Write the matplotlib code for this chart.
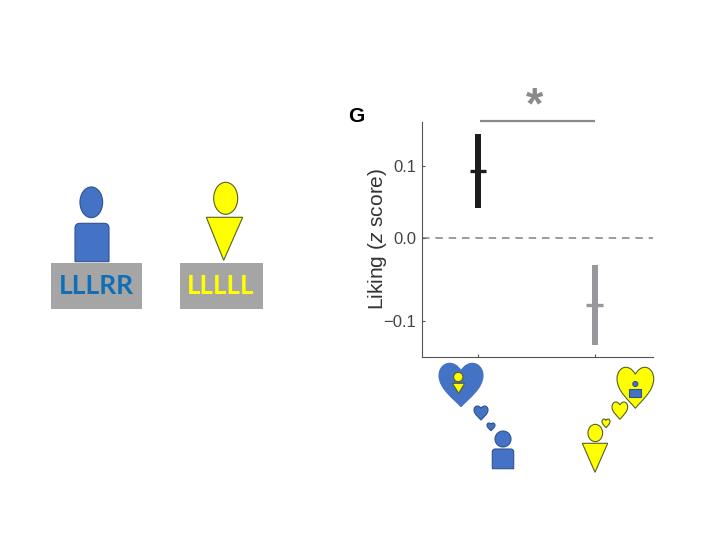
import matplotlib

matplotlib.use("Agg")
import matplotlib.pyplot as plt
import numpy as np
from matplotlib.patches import Ellipse, PathPatch, Polygon, Rectangle
from matplotlib.path import Path

# Chart values
groups = [0, 1]
means = [0.093, -0.081]
upper = [0.144, -0.033]
lower = [0.041, -0.130]
barColors = ["#1c1c1e", "#98989c"]
yTicks = [0.1, 0.0, -0.1]
yTickLabels = ["0.1", "0.0", "\u22120.1"]
yLabel = "Liking ($\\mathit{z}$ score)"
leftStrategy = "LLLRR"
rightStrategy = "LLLLL"

BLUE = "#4472c4"
BLUE_EDGE = "#2f528f"
YELLOW = "#ffff00"
YELLOW_EDGE = "#55602a"
BOX_GREY = "#a5a5a5"

plt.rcParams["font.family"] = ["Liberation Sans", "DejaVu Sans"]
plt.rcParams["mathtext.fontset"] = "custom"
plt.rcParams["mathtext.it"] = "Liberation Sans:italic"
plt.rcParams["mathtext.rm"] = "Liberation Sans"


# The published axis is not evenly spaced around zero
def forward(y):
    y = np.asarray(y, dtype=float)
    return np.where(y >= 0, y * 723, y * 827)


def inverse(v):
    v = np.asarray(v, dtype=float)
    return np.where(v >= 0, v / 723, v / 827)


fig = plt.figure(figsize=(7.2, 5.4), dpi=100)

ax = fig.add_axes([421.5 / 720, 1 - 356.5 / 540, 231.5 / 720, 234.5 / 540])
ax.set_yscale("function", functions=(forward, inverse))
ax.set_xlim(-0.484, 1.5)
ax.set_ylim(-0.1433, 0.1604)

ax.axhline(0, color="#8a8a8a", linewidth=1.2, dashes=(4.5, 3.5), zorder=1)
ax.vlines(groups, lower, upper, colors=barColors, linewidth=4.3, zorder=2)
ax.hlines(means, np.array(groups) - 0.07, np.array(groups) + 0.07, colors=barColors, linewidth=2.4, zorder=3)

ax.spines["top"].set_visible(False)
ax.spines["right"].set_visible(False)
ax.spines["left"].set_color("#555555")
ax.spines["bottom"].set_color("#555555")
ax.set_xticks(groups)
ax.set_xticklabels([])
ax.set_yticks(yTicks)
ax.set_yticklabels(yTickLabels, fontsize=12, color="#444444")
ax.minorticks_off()
ax.tick_params(axis="both", direction="in", length=2, width=0.8, color="#555555", pad=4)
ax.set_ylabel(yLabel, fontsize=15, color="#333333")
ax.yaxis.set_label_coords(-0.140, 0.50)

# Everything around the chart is placed in picture pixels
over = fig.add_axes([0, 0, 1, 1], facecolor="none")
over.set_xlim(0, 720)
over.set_ylim(540, 0)
over.axis("off")


def oval(cx, cy, w, h, face, edge):
    over.add_patch(Ellipse((cx, cy), w, h, facecolor=face, edgecolor=edge, linewidth=0.8))


def triangle(x0, x1, top, tipX, tipY, face, edge):
    over.add_patch(Polygon([(x0, top), (x1, top), (tipX, tipY)], facecolor=face, edgecolor=edge, linewidth=0.8))


def body(x0, x1, y0, y1, face, edge, radius=3.5):
    verts = [
        (x0, y1), (x0, y0 + radius), (x0, y0), (x0 + radius, y0),
        (x1 - radius, y0), (x1, y0), (x1, y0 + radius), (x1, y1), (x0, y1),
    ]
    codes = [
        Path.MOVETO, Path.LINETO, Path.CURVE3, Path.CURVE3,
        Path.LINETO, Path.CURVE3, Path.CURVE3, Path.LINETO, Path.CLOSEPOLY,
    ]
    over.add_patch(PathPatch(Path(verts, codes), facecolor=face, edgecolor=edge, linewidth=0.8))


def heart(x0, x1, y0, y1, face, edge):
    w = x1 - x0
    h = y1 - y0
    shape = [
        (0.5, 0.17),
        (0.58, 0.04), (0.68, 0.0), (0.76, 0.0),
        (0.89, 0.0), (1.0, 0.12), (1.0, 0.28),
        (1.0, 0.58), (0.68, 0.80), (0.5, 1.0),
        (0.32, 0.80), (0.0, 0.58), (0.0, 0.28),
        (0.0, 0.12), (0.11, 0.0), (0.24, 0.0),
        (0.32, 0.0), (0.42, 0.04), (0.5, 0.17),
    ]
    verts = [(x0 + sx * w, y0 + sy * h) for sx, sy in shape]
    codes = [Path.MOVETO] + [Path.CURVE4] * (len(verts) - 1)
    over.add_patch(PathPatch(Path(verts, codes), facecolor=face, edgecolor=edge, linewidth=0.8))


# G label and significance bracket
over.text(356, 116, "G", fontsize=15, fontweight="bold", ha="center", va="center", color="black")
over.plot([480, 595], [121, 121], color="#8a8a8a", linewidth=1.6, solid_capstyle="butt")
over.text(534.5, 107, "*", fontsize=32, fontweight="bold", ha="center", va="center", color="#8a8a8c")

# Left panel, two players
oval(91.3, 202.3, 22.7, 30.7, BLUE, BLUE_EDGE)
body(75, 109, 223.3, 261.7, BLUE, BLUE_EDGE, radius=5)
over.add_patch(Rectangle((51, 263), 91, 45.7, facecolor=BOX_GREY, edgecolor="none"))
over.text(96, 286, leftStrategy, fontsize=19, family="Lato", fontweight="bold", color="#0f6fb6", ha="center", va="center")

oval(225.7, 198.3, 24, 32, YELLOW, YELLOW_EDGE)
triangle(206.3, 242.7, 217.3, 223.7, 260.3, YELLOW, YELLOW_EDGE)
over.add_patch(Rectangle((180, 263), 82.7, 45.7, facecolor=BOX_GREY, edgecolor="none"))
over.text(221, 286, rightStrategy, fontsize=18.5, family="Lato", fontweight="bold", color=YELLOW, ha="center", va="center")

# Icons under the blue condition
heart(439, 483, 363.3, 406.7, BLUE, BLUE)
oval(458.3, 377, 9.3, 9.3, YELLOW, YELLOW_EDGE)
triangle(452.3, 464.7, 383.3, 458.7, 393.3, YELLOW, YELLOW_EDGE)
heart(474, 488, 406, 420, BLUE, BLUE_EDGE)
heart(487, 495, 423, 430.7, BLUE, BLUE_EDGE)
oval(503, 439, 16, 16, BLUE, BLUE_EDGE)
body(492.3, 513.7, 449, 468.7, BLUE, BLUE_EDGE, radius=3)

# Icons under the yellow condition
heart(617, 653.7, 367.3, 408.3, YELLOW, YELLOW_EDGE)
oval(635.3, 384, 5, 5, BLUE, BLUE_EDGE)
over.add_patch(Rectangle((629.3, 389), 11.7, 7.7, facecolor=BLUE, edgecolor=BLUE_EDGE, linewidth=0.8))
heart(612, 627.7, 402, 419.3, YELLOW, YELLOW_EDGE)
heart(602, 610, 419, 427.7, YELLOW, YELLOW_EDGE)
oval(595.3, 433, 14.7, 17.3, YELLOW, YELLOW_EDGE)
triangle(582.3, 607.7, 443.3, 595, 472.3, YELLOW, YELLOW_EDGE)

fig.savefig("out.png", dpi=100, facecolor="white")
